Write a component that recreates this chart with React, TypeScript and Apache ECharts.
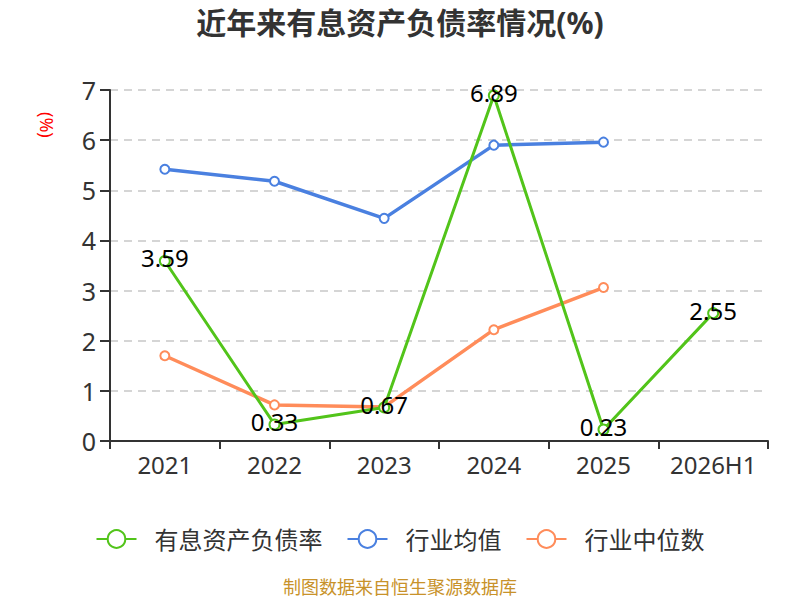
import React, { useEffect, useRef } from "react";
import * as echarts from "echarts";

const categories = ["2021", "2022", "2023", "2024", "2025", "2026H1"];
const debtRatio = [3.59, 0.33, 0.67, 6.89, 0.23, 2.55];
const industryMean = [5.42, 5.18, 4.44, 5.9, 5.96, null];
const industryMedian = [1.7, 0.72, 0.68, 2.22, 3.06, null];
const seriesNames = ["有息资产负债率", "行业均值", "行业中位数"];

const FONT = "'Noto Sans', 'Noto Sans CJK SC', sans-serif";

export default function App() {
  const ref = useRef<HTMLDivElement>(null);
  useEffect(() => {
    const chart = echarts.init(ref.current!, null, { renderer: "svg" });
    chart.setOption({
      animation: false,
      textStyle: { fontFamily: FONT },
      title: {
        text: "近年来有息资产负债率情况(%)",
        left: "center",
        top: 2,
        textStyle: { fontSize: 30, fontWeight: "bold", color: "#333", fontFamily: FONT },
      },
      legend: {
        top: 522,
        left: "center",
        itemWidth: 40,
        itemHeight: 22,
        itemGap: 24,
        textStyle: { fontSize: 24, color: "#333", fontFamily: FONT, padding: [0, 0, 0, 13] },
        data: seriesNames,
      },
      grid: { left: 110, right: 32, top: 90, bottom: 159 },
      graphic: [
        {
          type: "text",
          x: 56,
          y: 112,
          rotation: -Math.PI / 2,
          style: { text: "(%)", fill: "#ff0000", fontSize: 18, fontFamily: FONT },
        },
        {
          type: "text",
          left: "center",
          top: 578,
          style: { text: "制图数据来自恒生聚源数据库", fill: "#c8922a", fontSize: 18, fontFamily: FONT },
        },
      ],
      xAxis: {
        type: "category",
        data: categories,
        boundaryGap: true,
        axisLine: { lineStyle: { color: "#333", width: 2 } },
        axisTick: { show: true, length: 8, lineStyle: { color: "#333", width: 2 } },
        axisLabel: { interval: 0, fontSize: 24, color: "#333", margin: 11, fontFamily: FONT },
      },
      yAxis: {
        type: "value",
        min: 0,
        max: 7,
        interval: 1,
        axisLine: { show: true, lineStyle: { color: "#333", width: 2 } },
        axisTick: { show: true, length: 10, lineStyle: { color: "#333", width: 2 } },
        axisLabel: { fontSize: 25, color: "#333", margin: 14, fontFamily: FONT },
        splitLine: { lineStyle: { type: [8, 6], color: "#c8c8c8", width: 1.5 } },
      },
      series: [
        {
          name: seriesNames[0],
          type: "line",
          data: debtRatio,
          symbol: "emptyCircle",
          symbolSize: 10,
          itemStyle: { color: "#52c41a" },
          lineStyle: { width: 3, color: "#52c41a" },
          label: {
            show: true,
            position: "inside",
            offset: [0, -3],
            fontSize: 24,
            color: "#000",
            fontFamily: FONT,
          },
          z: 3,
        },
        {
          name: seriesNames[1],
          type: "line",
          data: industryMean,
          symbol: "emptyCircle",
          symbolSize: 9,
          itemStyle: { color: "#4a80e0" },
          lineStyle: { width: 3.5, color: "#4a80e0" },
          z: 2,
        },
        {
          name: seriesNames[2],
          type: "line",
          data: industryMedian,
          symbol: "emptyCircle",
          symbolSize: 9,
          itemStyle: { color: "#ff8c5a" },
          lineStyle: { width: 3.5, color: "#ff8c5a" },
          z: 2,
        },
      ],
    });
    return () => chart.dispose();
  }, []);
  return (
    <div
      ref={ref}
      style={{ position: "absolute", left: 0, top: 0, width: 800, height: 600 }}
    />
  );
}
